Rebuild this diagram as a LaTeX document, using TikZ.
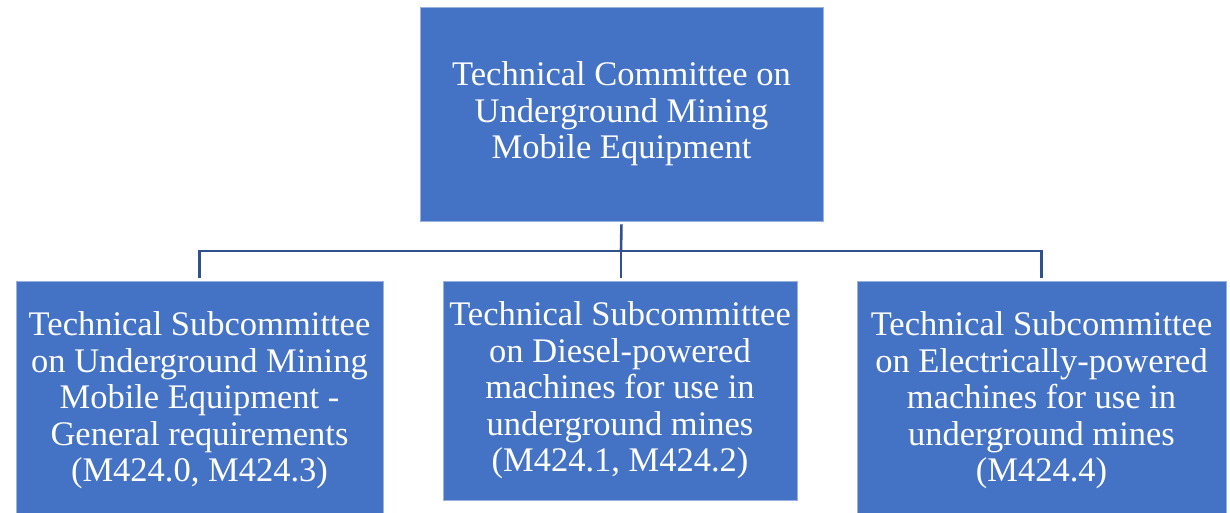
\documentclass[tikz,border=0pt]{standalone}
\usepackage{fontspec}
\setmainfont{Liberation Serif}
\definecolor{boxblue}{HTML}{4472C4}
\definecolor{lineblue}{HTML}{2F528F}
\tikzset{
  orgbox/.style={rectangle, fill=boxblue, draw=boxblue!55!white, line width=0.8pt,
    text=white, align=center, inner sep=0pt,
    font=\fontsize{34.5}{36.5}\selectfont},
  orgline/.style={draw=lineblue, line width=2.6pt}
}
\begin{document}
\begin{tikzpicture}[x=1pt, y=-1pt]
\useasboundingbox (0,0) rectangle (1230,512);
\node[orgbox, minimum width=403pt, minimum height=214pt] (tc) at (621.5,114)
  {Technical Committee on\\Underground Mining\\Mobile Equipment};
\node[orgbox, minimum width=367pt, minimum height=239pt] (sub0) at (199.5,400.5)
  {Technical Subcommittee\\on Underground Mining\\Mobile Equipment -\\General requirements\\(M424.0, M424.3)};
\node[orgbox, minimum width=354pt, minimum height=219pt] (sub1) at (620,390.5)
  {Technical Subcommittee\\on Diesel-powered\\machines for use in\\underground mines\\(M424.1, M424.2)};
\node[orgbox, minimum width=369pt, minimum height=239pt] (sub2) at (1041.5,400.5)
  {Technical Subcommittee\\on Electrically-powered\\machines for use in\\underground mines\\(M424.4)};
\coordinate (bus) at (621,251);
\draw[orgline, shorten <=3pt] (tc.south) -- (bus);
\draw[orgline, shorten <=3pt] (sub0.north) |- (bus);
\draw[orgline, shorten >=3pt] (bus) -| (sub2.north);
\draw[orgline, shorten >=3pt] (bus) -- (bus |- sub1.north);
\end{tikzpicture}
\end{document}
